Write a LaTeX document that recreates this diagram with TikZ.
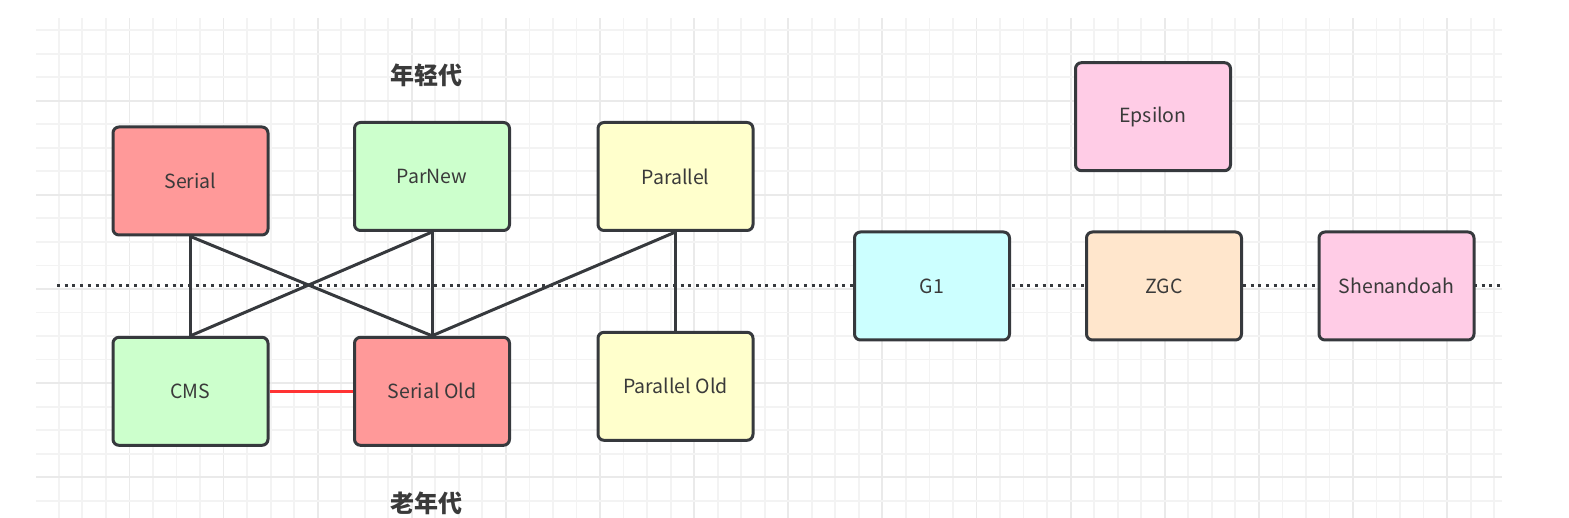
\documentclass[tikz,border=0pt]{standalone}
\usepackage{fontspec}
\setmainfont{Noto Sans CJK SC}
\newfontfamily\cjk{Noto Sans CJK SC}

\definecolor{testo}{HTML}{3A3A3A}
\definecolor{bordo}{HTML}{36393D}
\definecolor{rosso}{HTML}{FF9999}
\definecolor{verde}{HTML}{CCFFCC}
\definecolor{giallo}{HTML}{FFFFCC}
\definecolor{ciano}{HTML}{CCFFFF}
\definecolor{pesca}{HTML}{FFE6CC}
\definecolor{rosa}{HTML}{FFCCE6}
\definecolor{grigliamin}{HTML}{F3F3F3}
\definecolor{grigliamag}{HTML}{EAEAEA}

\tikzset{
  gcbox/.style={draw=bordo,line width=3pt,rounded corners=6pt,
    minimum width=155pt,minimum height=108pt,inner sep=0pt,
    text=testo,font=\fontsize{19.5}{23}\selectfont},
  zona/.style={text=testo,font=\cjk\bfseries\fontsize{24}{28}\selectfont},
  collega/.style={draw=bordo,line width=3pt},
}

\begin{document}
\begin{tikzpicture}[x=1pt,y=-1pt]
\useasboundingbox (0,0) rectangle (1569,518);

% Griglia di sfondo
\begin{scope}
\clip (36,19) rectangle (1502,518);
\foreach \k in {0,...,62}{
  \pgfmathsetmacro\xx{35.3+23.53*\k}
  \pgfmathparse{mod(\k,4)==0 ? "grigliamag" : "grigliamin"}
  \draw[\pgfmathresult,line width=1.8pt] (\xx,0) -- (\xx,518);
}
\foreach \k in {0,...,21}{
  \pgfmathsetmacro\yy{6.6+23.53*\k}
  \pgfmathparse{mod(\k,4)==0 ? "grigliamag" : "grigliamin"}
  \draw[\pgfmathresult,line width=1.8pt] (36,\yy) -- (1502,\yy);
}
\end{scope}

% Linea tratteggiata
\coordinate (linea-a) at (57,286);
\coordinate (linea-b) at (1500,286);
\draw[bordo,line width=3pt,dash pattern=on 3pt off 4.7pt] (linea-a) -- (linea-b);

% Giovane generazione
\node[gcbox,fill=rosso] (serial) at (190.5,181) {Serial};
\node[gcbox,fill=verde] (parnew) at (432,176.5) {ParNew};
\node[gcbox,fill=giallo] (parallel) at (675.5,176.5) {Parallel};

% Vecchia generazione
\node[gcbox,fill=verde] (cms) at (190.5,391.3) {CMS};
\node[gcbox,fill=rosso] (serialold) at (432,391.3) {Serial Old};
\node[gcbox,fill=giallo] (parallelold) at (675.5,386.3) {Parallel Old};

% Altri collettori
\node[gcbox,fill=ciano] (g1) at (932,286) {G1};
\node[gcbox,fill=pesca] (zgc) at (1164,286) {ZGC};
\node[gcbox,fill=rosa] (shenandoah) at (1396.5,286) {Shenandoah};
\node[gcbox,fill=rosa] (epsilon) at (1153,116.7) {Epsilon};

% Etichette
\node[zona] (giovane) at (426,75) {年轻代};
\node[zona] (vecchia) at (426,503) {老年代};

% Collegamenti
\draw[collega] (serial.south) -- (cms.north);
\draw[collega] (serial.south) -- (serialold.north);
\draw[collega] (parnew.south) -- (cms.north);
\draw[collega] (parnew.south) -- (serialold.north);
\draw[collega] (parallel.south) -- (serialold.north);
\draw[collega] (parallel.south) -- (parallelold.north);
\draw[red!80,line width=3pt] (cms.east) -- (serialold.west);

\end{tikzpicture}
\end{document}
